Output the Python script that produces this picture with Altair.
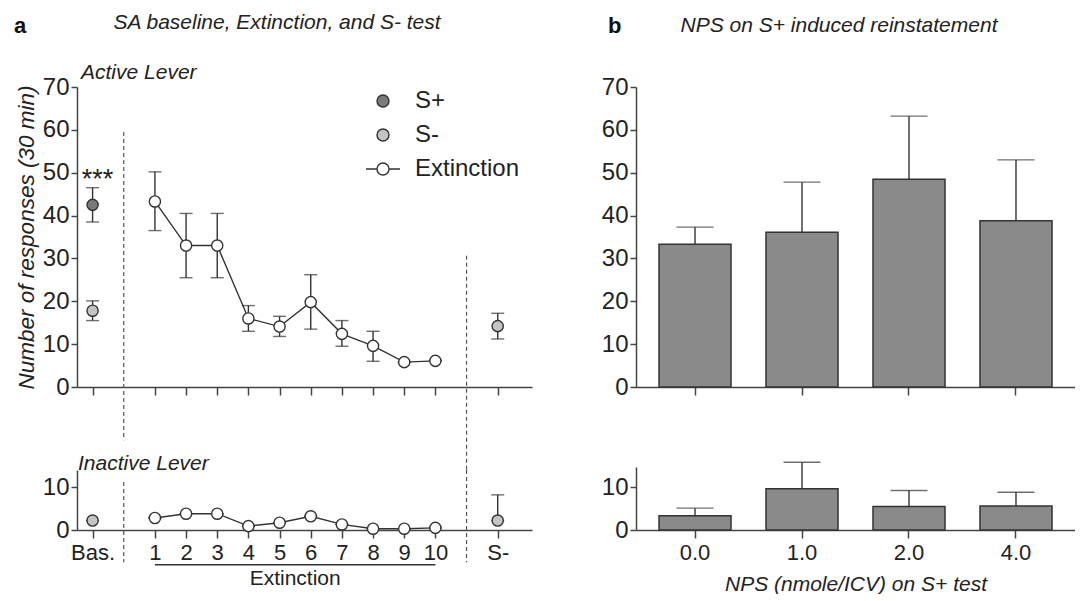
import altair as alt
import pandas as pd

FONT = "Liberation Sans"
INK = "#333333"
AXC = "#444444"
TXT = "#222222"

# ---------------- Panel a data ----------------
a_tick_values = [-1, 1, 2, 3, 4, 5, 6, 7, 8, 9, 10, 12]
a_tick_labels = ["Bas.", "1", "2", "3", "4", "5", "6", "7", "8", "9", "10", "S-"]
base_x = -1
test_x = 12
ext_days = [1, 2, 3, 4, 5, 6, 7, 8, 9, 10]

act_ext_mean = [43.3, 33.0, 33.0, 16.0, 14.1, 19.8, 12.4, 9.6, 5.8, 6.1]
act_ext_lo = [36.5, 25.5, 25.5, 13.0, 11.8, 13.5, 9.5, 6.0, 5.8, 6.1]
act_ext_hi = [50.2, 40.5, 40.5, 19.0, 16.5, 26.2, 15.5, 13.0, 5.8, 6.1]
act_base_splus = [42.5, 38.5, 46.5]      # mean, low, high
act_base_sminus = [17.8, 15.5, 20.1]
act_test_sminus = [14.2, 11.2, 17.2]

inact_ext_mean = [2.8, 3.8, 3.8, 0.9, 1.7, 3.2, 1.3, 0.3, 0.3, 0.5]
inact_base_sminus = [2.2, 2.2, 2.2]
inact_test_sminus = [2.2, 2.2, 8.2]

groups = ["S+", "S-", "Extinction"]
group_fill = ["#7a7a7a", "#c4c4c4", "#ffffff"]

# ---------------- Panel b data ----------------
doses = ["0.0", "1.0", "2.0", "4.0"]
b_active_mean = [33.3, 36.1, 48.5, 38.8]
b_active_err = [37.3, 47.8, 63.2, 53.0]
b_inactive_mean = [3.3, 9.6, 5.5, 5.6]
b_inactive_err = [5.1, 15.8, 9.2, 8.8]

# separators (x position, y top, y bottom) in data units
sep_top = pd.DataFrame({"x": [0, 11], "y": [59.5, 30.6], "y2": [-12.4, -19.4]})
sep_bot = pd.DataFrame({"x": [0, 11], "y": [11.2, 14.0], "y2": [-7.5, -7.5]})


def lever_df(base_sp, base_sm, mean, lo, hi, test_sm):
    rows = []
    if base_sp is not None:
        rows.append(dict(x=base_x, y=base_sp[0], lo=base_sp[1], hi=base_sp[2], group="S+"))
    rows.append(dict(x=base_x, y=base_sm[0], lo=base_sm[1], hi=base_sm[2], group="S-"))
    for d, m, l, h in zip(ext_days, mean, lo, hi):
        rows.append(dict(x=d, y=m, lo=l, hi=h, group="Extinction"))
    rows.append(dict(x=test_x, y=test_sm[0], lo=test_sm[1], hi=test_sm[2], group="S-"))
    return pd.DataFrame(rows)


act_df = lever_df(act_base_splus, act_base_sminus, act_ext_mean, act_ext_lo, act_ext_hi, act_test_sminus)
inact_df = lever_df(None, inact_base_sminus, inact_ext_mean, inact_ext_mean, inact_ext_mean, inact_test_sminus)

label_expr = " : ".join(
    [f"datum.value == {v} ? '{t}'" for v, t in zip(a_tick_values, a_tick_labels)]
) + " : ''"

X_SCALE_A = alt.Scale(domain=[-1.5, 13.1], nice=False, zero=False)
# points: same colours, domain listed in another order so that this (hidden) legend
# is not merged with the visible one
PTS_FILL_SCALE = alt.Scale(domain=groups[::-1], range=group_fill[::-1])
LEG_COLOR_SCALE = alt.Scale(domain=groups, range=group_fill)

R = 6 / 17
circ = f"M{-R:.3f},0A{R:.3f},{R:.3f} 0 1,0 {R:.3f},0A{R:.3f},{R:.3f} 0 1,0 {-R:.3f},0Z"
ext_sym = f"M-1,0L{-R:.3f},0M{R:.3f},0L1,0" + circ
SHAPE_SCALE = alt.Scale(domain=groups, range=[circ, circ, ext_sym])

LEG = alt.Legend(orient="none", legendX=288, legendY=-4, title=None,
                 symbolSize=1156, symbolStrokeColor=INK, symbolStrokeWidth=1.4,
                 labelFontSize=24, labelFont=FONT, labelColor=TXT,
                 labelOffset=14, rowPadding=4, padding=0)


def lever_panel(df, sep, ymax, height, yvals, top, show_labels):
    xax = alt.Axis(values=a_tick_values, labels=show_labels, labelExpr=label_expr, title=None,
                   tickSize=8, labelPadding=4, labelFontSize=22)
    yax = alt.Axis(values=yvals, tickSize=6, labelPadding=2, labelFontSize=24,
                   title="Number of responses (30 min)" if top else None,
                   titleFontStyle="italic", titleFontWeight="normal", titleFontSize=22.5,
                   titlePadding=4)
    ysc = alt.Scale(domain=[0, ymax], nice=False)

    def X(f):
        return alt.X(f, type="quantitative", scale=X_SCALE_A, axis=xax)

    def Y(f):
        return alt.Y(f, type="quantitative", scale=ysc, axis=yax)

    base = alt.Chart(df)
    seps = alt.Chart(sep).mark_rule(color="#555555", strokeWidth=1.2, strokeDash=[4, 3]).encode(
        x=X("x"), y=Y("y"), y2="y2")
    err = base.mark_rule(color=INK, strokeWidth=1.4).encode(x=X("x"), y=Y("lo"), y2="hi")
    cap_lo = base.mark_tick(color=INK, size=13, thickness=1.4, orient="horizontal").encode(x=X("x"), y=Y("lo"))
    cap_hi = base.mark_tick(color=INK, size=13, thickness=1.4, orient="horizontal").encode(x=X("x"), y=Y("hi"))
    line = base.transform_filter(alt.datum.group == "Extinction").mark_line(
        color=INK, strokeWidth=1.4).encode(x=X("x"), y=Y("y"))
    pts = base.mark_point(filled=True, size=125, stroke=INK, strokeWidth=1.4, opacity=1, shape="circle").encode(
        x=X("x"), y=Y("y"), fill=alt.Fill("group:N", scale=PTS_FILL_SCALE, legend=None))
    layers = [seps, err, cap_lo, cap_hi, line, pts]
    if top:
        leg_df = pd.DataFrame({"x": [-100] * 3, "y": [-100] * 3, "key": groups})
        legend = alt.Chart(leg_df).mark_point(filled=True, clip=True, stroke=INK, strokeWidth=1.4,
                                              opacity=1).encode(
            x=X("x"), y=Y("y"),
            color=alt.Color("key:N", scale=LEG_COLOR_SCALE, legend=LEG),
            shape=alt.Shape("key:N", scale=SHAPE_SCALE, legend=LEG))
        stars = alt.Chart(pd.DataFrame({"x": [base_x], "y": [48.3], "t": ["***"]})).mark_text(
            fontSize=27, color=TXT, baseline="middle", dx=5).encode(x=X("x"), y=Y("y"), text="t:N")
        ann = pd.DataFrame({"t": ["a"]})
        lab_a = alt.Chart(ann).mark_text(fontSize=22, fontWeight="bold", color="#111111", align="left",
                                         baseline="alphabetic").encode(
            x=alt.value(-63), y=alt.value(-54), text="t:N")
        ttl = alt.Chart(pd.DataFrame({"t": ["SA baseline, Extinction, and S- test"]})).mark_text(
            fontSize=21, fontStyle="italic", color=TXT, align="center", baseline="alphabetic").encode(
            x=alt.value(200), y=alt.value(-58), text="t:N")
        lever = alt.Chart(pd.DataFrame({"t": ["Active Lever"]})).mark_text(
            fontSize=21, fontStyle="italic", color=TXT, align="left", baseline="alphabetic").encode(
            x=alt.value(4), y=alt.value(-8), text="t:N")
        layers += [legend, stars, lab_a, ttl, lever]
    else:
        lever = alt.Chart(pd.DataFrame({"t": ["Inactive Lever"]})).mark_text(
            fontSize=21, fontStyle="italic", color=TXT, align="left", baseline="alphabetic").encode(
            x=alt.value(1), y=alt.value(0), text="t:N")
        br = alt.Chart(pd.DataFrame({"x": [ext_days[0]], "x2": [ext_days[-1]], "y": [-8.1]})).mark_rule(
            color=INK, strokeWidth=1.4).encode(x=X("x"), x2="x2", y=Y("y"))
        brt = alt.Chart(pd.DataFrame({"x": [(ext_days[0] + ext_days[-1]) / 2], "y": [-11.5],
                                      "t": ["Extinction"]})).mark_text(
            fontSize=21, color=TXT, baseline="middle").encode(x=X("x"), y=Y("y"), text="t:N")
        layers += [lever, br, brt]
    return alt.layer(*layers).properties(width=455, height=height)


a_top = lever_panel(act_df, sep_top, 70, 300, list(range(0, 71, 10)), True, False)
a_bot = lever_panel(inact_df, sep_bot, 14, 60, [0, 10], False, True)


def bar_panel(mean, err, ymax, height, yvals, top):
    df = pd.DataFrame({"dose": doses, "mean": mean, "err": err})
    xax = alt.Axis(labels=not top, title=None if top else "NPS (nmole/ICV) on S+ test",
                   labelAngle=0, tickSize=8, labelPadding=4, labelFontSize=22,
                   titleFontStyle="italic", titleFontWeight="normal", titleFontSize=21, titlePadding=10)
    xs = alt.Scale(domain=doses, paddingInner=0.327, paddingOuter=0.215)
    ysc = alt.Scale(domain=[0, ymax], nice=False)
    yax = alt.Axis(values=yvals, tickSize=6, labelPadding=2, labelFontSize=24, title=None)
    X = alt.X("dose:N", scale=xs, axis=xax, sort=doses)
    base = alt.Chart(df)
    err_r = base.mark_rule(color=INK, strokeWidth=1.4).encode(
        x=X, y=alt.Y("mean:Q", scale=ysc, axis=yax), y2="err")
    cap = base.mark_tick(color=INK, size=37, thickness=1.4).encode(
        x=X, y=alt.Y("err:Q", scale=ysc, axis=yax))
    bars = base.mark_bar(color="#8a8a8a", stroke=INK, strokeWidth=1.5).encode(
        x=X, y=alt.Y("mean:Q", scale=ysc, axis=yax))
    layers = [err_r, cap, bars]
    if top:
        lab_b = alt.Chart(pd.DataFrame({"t": ["b"]})).mark_text(
            fontSize=22, fontWeight="bold", color="#111111", align="left", baseline="alphabetic").encode(
            x=alt.value(-28), y=alt.value(-54), text="t:N")
        ttl = alt.Chart(pd.DataFrame({"t": ["NPS on S+ induced reinstatement"]})).mark_text(
            fontSize=21, fontStyle="italic", color=TXT, align="center", baseline="alphabetic").encode(
            x=alt.value(203), y=alt.value(-55), text="t:N")
        layers += [lab_b, ttl]
    return alt.layer(*layers).properties(width=439, height=height)


b_top = bar_panel(b_active_mean, b_active_err, 70, 300, list(range(0, 71, 10)), True)
b_bot = bar_panel(b_inactive_mean, b_inactive_err, 14.7, 63, [0, 10], False)

col_a = alt.vconcat(a_top, a_bot, spacing=83, bounds="flush").resolve_scale(
    color="independent", fill="independent", shape="independent"
).resolve_legend(color="independent", fill="independent", shape="independent")
col_b = alt.vconcat(b_top, b_bot, spacing=80, bounds="flush")

chart = alt.hconcat(col_a, col_b, spacing=69,
                    padding={"left": 6, "top": 4, "right": 0, "bottom": 0}).resolve_scale(
    color="independent", fill="independent", shape="independent"
).resolve_legend(color="independent", fill="independent", shape="independent").configure_view(
    stroke=None
).configure_axis(
    domainColor=AXC, domainWidth=1.5, tickColor=AXC, tickWidth=1.5, grid=False,
    labelColor=TXT, labelFont=FONT, titleFont=FONT, titleColor=TXT
).configure_text(font=FONT).configure_legend(labelFont=FONT)

chart.save("out.html", embed_options={"renderer": "svg", "actions": False})
